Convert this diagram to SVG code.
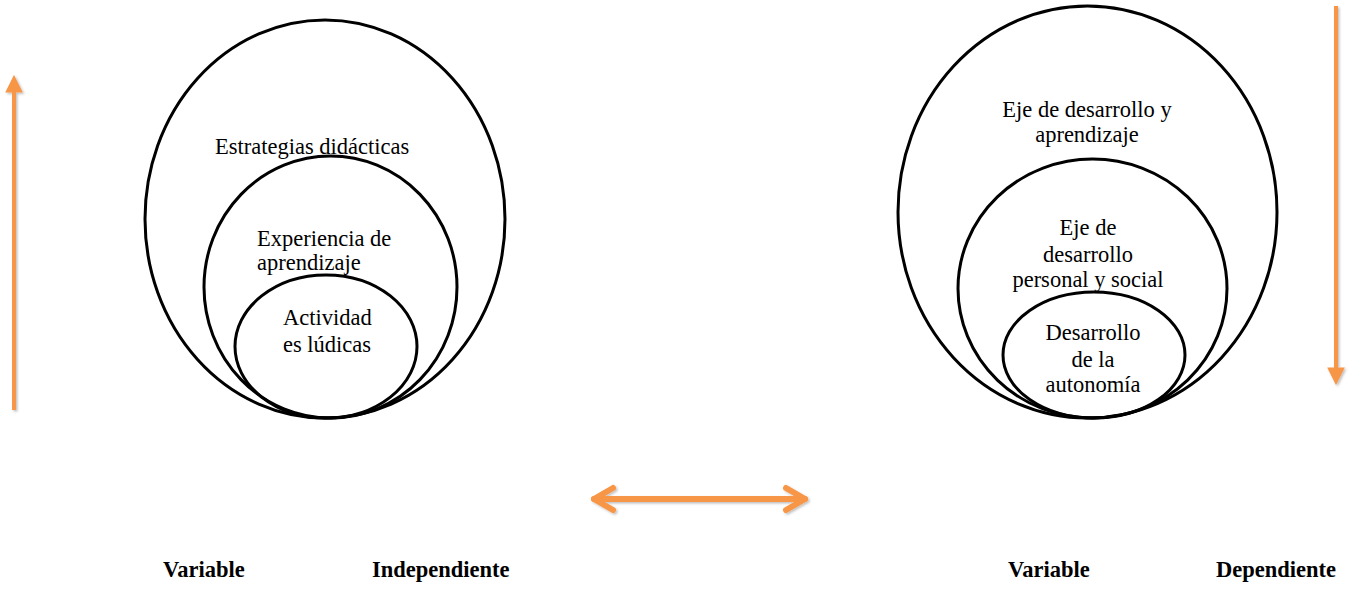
<svg xmlns="http://www.w3.org/2000/svg" width="1359" height="589" viewBox="0 0 1359 589">
<style>
.ring{fill:none;stroke:#000;stroke-width:3}
.t{font-family:"Liberation Serif","Times New Roman",serif;font-size:22.5px;fill:#000}
.c{text-anchor:middle}
.b{font-family:"Liberation Serif","Times New Roman",serif;font-size:22.5px;font-weight:bold;fill:#000}
.arr{stroke:#F79646;fill:none;stroke-width:4}
</style>
<defs>
<filter id="sh" x="-20%" y="-20%" width="140%" height="140%">
<feDropShadow dx="1.5" dy="1.5" stdDeviation="1.2" flood-color="#000" flood-opacity="0.25"/>
</filter>
<marker id="ah" viewBox="0 0 10 10" refX="2" refY="5" markerWidth="4.4" markerHeight="4.4" orient="auto">
<path d="M0,0 L10,5 L0,10 z" fill="#F79646"/>
</marker>
</defs>
<rect width="1359" height="589" fill="#fff"/>
<g id="left-outer"><ellipse class="ring" cx="325" cy="219" rx="180" ry="199"/><text class="t" x="215" y="154">Estrategias didácticas</text></g>
<g id="left-middle"><ellipse class="ring" cx="330.5" cy="287" rx="126.5" ry="131"/><text class="t" x="257" y="246">Experiencia de</text><text class="t" x="257" y="270">aprendizaje</text></g>
<g id="left-inner"><ellipse class="ring" cx="326" cy="346.5" rx="91" ry="71.5"/><text class="t" x="283" y="325">Actividad</text><text class="t" x="283" y="352">es lúdicas</text></g>
<g id="right-outer"><ellipse class="ring" cx="1087.5" cy="212" rx="189.5" ry="206"/><text class="t c" x="1087" y="117">Eje de desarrollo y</text><text class="t c" x="1087" y="142">aprendizaje</text></g>
<g id="right-middle"><ellipse class="ring" cx="1092.5" cy="288.5" rx="134.5" ry="129.5"/><text class="t c" x="1088" y="235">Eje de</text><text class="t c" x="1088" y="262">desarrollo</text><text class="t c" x="1088" y="287">personal y social</text></g>
<g id="right-inner"><ellipse class="ring" cx="1094" cy="355" rx="91" ry="63"/><text class="t c" x="1093" y="340">Desarrollo</text><text class="t c" x="1093" y="367">de la</text><text class="t c" x="1093" y="392">autonomía</text></g>
<g id="connectors" filter="url(#sh)">
<line class="arr" x1="14" y1="410" x2="14" y2="89" marker-end="url(#ah)"/>
<line class="arr" x1="1336" y1="6" x2="1336" y2="371" marker-end="url(#ah)"/>
<g stroke="#F79646" stroke-width="6" stroke-linecap="round" stroke-linejoin="round" fill="none">
<line x1="594" y1="499" x2="805" y2="499"/>
<polyline points="613,488 594,499 613,510"/>
<polyline points="786,488 805,499 786,510"/>
</g>
</g>
<g id="labels">
<text class="b" x="163" y="577">Variable</text>
<text class="b" x="372" y="577">Independiente</text>
<text class="b" x="1008" y="577">Variable</text>
<text class="b" x="1216" y="577">Dependiente</text>
</g>
</svg>
